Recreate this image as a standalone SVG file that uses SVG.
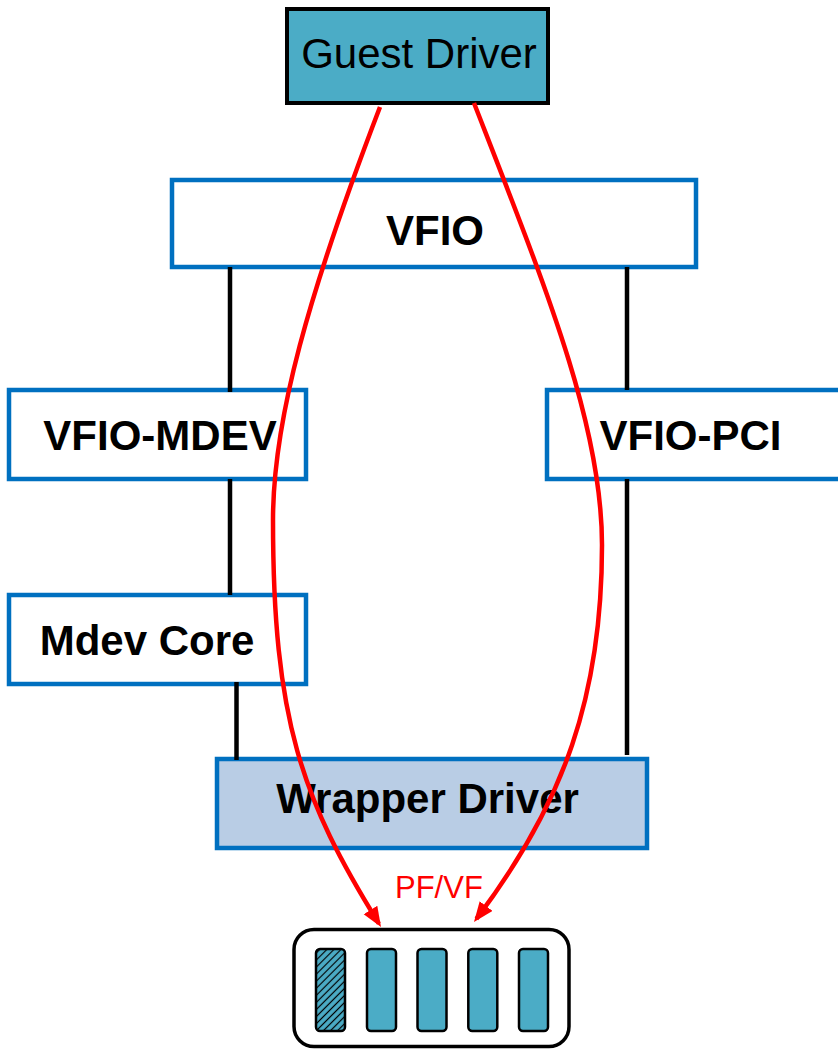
<svg xmlns="http://www.w3.org/2000/svg" width="838" height="1050" viewBox="0 0 838 1050">
  <style>
    .bluebox { fill: #FFFFFF; stroke: #0070C0; stroke-width: 4.5; }
    .lbl { font-family: "Liberation Sans", Arial, sans-serif; font-size: 42px; font-weight: bold; fill: #000; text-anchor: middle; }
    .reg { font-family: "Liberation Sans", Arial, sans-serif; font-size: 42px; fill: #000; text-anchor: middle; }
    .link { stroke: #000; stroke-width: 4.5; fill: none; }
    .flow { stroke: #FF0000; stroke-width: 4.5; fill: none; marker-end: url(#arrow); }
    .slot { fill: #4BACC6; stroke: #000; stroke-width: 2.5; }
  </style>
  <defs>
    <marker id="arrow" markerUnits="userSpaceOnUse" markerWidth="22" markerHeight="18" refX="16" refY="8" orient="auto">
      <path d="M0,0 L20,8 L0,16 z" fill="#FF0000"/>
    </marker>
    <pattern id="hatch" width="5" height="5" patternUnits="userSpaceOnUse" patternTransform="rotate(45)">
      <rect width="5" height="5" fill="#4BACC6"/>
      <line x1="2.5" y1="0" x2="2.5" y2="5" stroke="#000" stroke-width="1.2"/>
    </pattern>
  </defs>
  <rect width="838" height="1050" fill="#FFFFFF"/>

  <g id="guest-driver">
    <rect x="287" y="9" width="261" height="94" fill="#4BACC6" stroke="#000" stroke-width="4"/>
    <text class="reg" x="419" y="68">Guest Driver</text>
  </g>
  <g id="vfio">
    <rect class="bluebox" x="172" y="180" width="524" height="87"/>
    <text class="lbl" x="435" y="245">VFIO</text>
  </g>
  <g id="vfio-mdev">
    <rect class="bluebox" x="9" y="390" width="297" height="89"/>
    <text class="lbl" x="160" y="450">VFIO-MDEV</text>
  </g>
  <g id="vfio-pci">
    <rect class="bluebox" x="547" y="390" width="300" height="89"/>
    <text class="lbl" x="690.5" y="450">VFIO-PCI</text>
  </g>
  <g id="mdev-core">
    <rect class="bluebox" x="9" y="595" width="297" height="89"/>
    <text class="lbl" x="147" y="655">Mdev Core</text>
  </g>
  <g id="wrapper-driver">
    <rect x="217" y="759" width="430" height="89" fill="#B9CDE5" stroke="#0070C0" stroke-width="4.5"/>
    <text class="lbl" x="427.5" y="813">Wrapper Driver</text>
  </g>
  <g id="device">
    <rect x="294" y="929.5" width="275" height="117" rx="20" ry="20" fill="#FFFFFF" stroke="#000" stroke-width="3.5"/>
    <rect x="316" y="949" width="29" height="82" rx="4" fill="url(#hatch)" stroke="#000" stroke-width="2.5"/>
    <rect class="slot" x="367" y="949" width="29" height="82" rx="4"/>
    <rect class="slot" x="417.5" y="949" width="29" height="82" rx="4"/>
    <rect class="slot" x="468.3" y="949" width="29" height="82" rx="4"/>
    <rect class="slot" x="519" y="949" width="29" height="82" rx="4"/>
  </g>

  <g id="connectors">
    <line class="link" x1="230" y1="267" x2="230" y2="392"/>
    <line class="link" x1="627" y1="267" x2="627" y2="390"/>
    <line class="link" x1="230" y1="479" x2="230" y2="595"/>
    <line class="link" x1="627" y1="479" x2="627" y2="755"/>
    <line class="link" x1="236.5" y1="682" x2="236.5" y2="760"/>
    <path class="flow" d="M380,107 C308.4,293.8 273,420 273,520 C273,720 302,799.5 378.9,923.6"/>
    <path class="flow" d="M474,103 C546.6,289.4 602,425 602,545 C602,695 564.5,802.5 476.4,918.8"/>
    <text x="395" y="898" font-family="'Liberation Sans', Arial, sans-serif" font-size="31" fill="#FF0000">PF/VF</text>
  </g>
</svg>
